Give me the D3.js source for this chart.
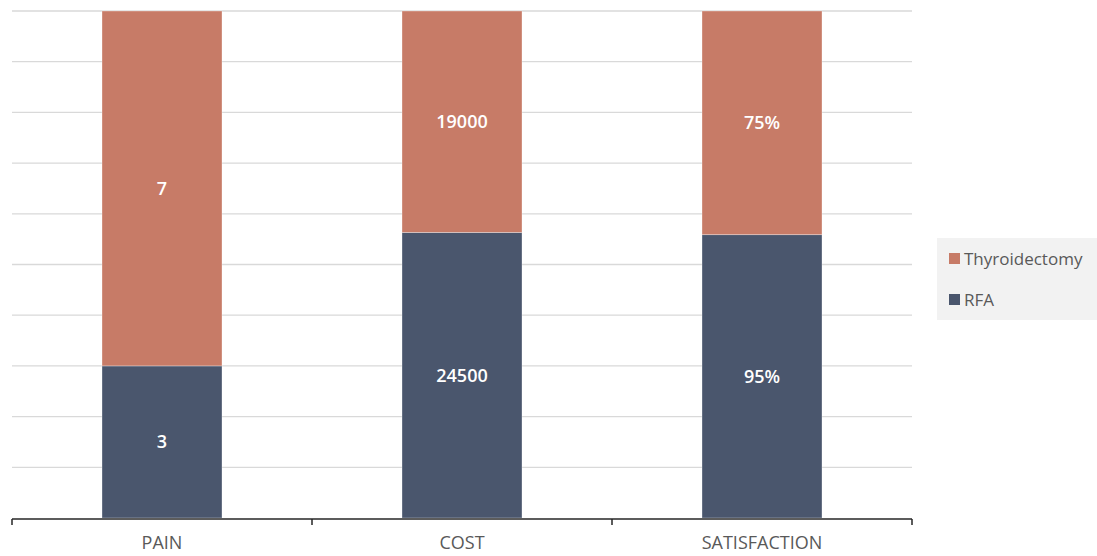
<!DOCTYPE html>
<html lang="en">
<meta charset="utf-8">
<style>
body {
  margin: 0;
  background: #fff;
  font-family: 'Open Sans', sans-serif;
}
.grid line {
  stroke: #d9d9d9;
  stroke-width: 1.3;
}
.label {
  fill: #fff;
  font-size: 18px;
  font-weight: 600;
}
.xaxis text {
  fill: #595959;
  font-size: 18px;
}
</style>
<body>
<div id="chart"></div>
<script src="https://d3js.org/d3.v7.min.js"></script>
<script>

// data
var categories = ["PAIN", "COST", "SATISFACTION"];
var seriesNames = ["RFA", "Thyroidectomy"];
var rfa = [3, 24500, 95];
var thyroidectomy = [7, 19000, 75];
var rfaLabels = ["3", "24500", "95%"];
var thyroLabels = ["7", "19000", "75%"];
var colors = ["#4a566d", "#c77b67"];

var width = 1097,
    height = 556;

var svg = d3.select("#chart").append("svg")
    .attr("width", width)
    .attr("height", height);

var x = d3.scaleBand()
    .domain(categories)
    .range([12, 912])
    .paddingInner(0.6)
    .paddingOuter(0.3);

var y = d3.scaleLinear()
    .domain([0, 1])
    .range([518, 11]);

// gridlines every 10%
svg.append("g")
    .attr("class", "grid")
  .selectAll("line")
    .data(d3.range(1, 11).map(function(i) { return i / 10; }))
  .enter().append("line")
    .attr("x1", 12)
    .attr("x2", 912)
    .attr("y1", function(d) { return y(d); })
    .attr("y2", function(d) { return y(d); });

// build stacked (100%) rows
var rows = categories.map(function(c, i) {
  var total = rfa[i] + thyroidectomy[i];
  return { cat: c, RFA: rfa[i] / total, Thyroidectomy: thyroidectomy[i] / total,
           labels: [rfaLabels[i], thyroLabels[i]] };
});

var stack = d3.stack().keys(seriesNames)(rows);

var layer = svg.selectAll(".layer")
    .data(stack)
  .enter().append("g")
    .attr("class", "layer")
    .attr("fill", function(d, i) { return colors[i]; });

layer.selectAll("rect")
    .data(function(d) { return d; })
  .enter().append("rect")
    .attr("x", function(d) { return x(d.data.cat); })
    .attr("width", x.bandwidth())
    .attr("y", function(d) { return y(d[1]); })
    .attr("height", function(d) { return y(d[0]) - y(d[1]); })
    .attr("stroke", "#fff")
    .attr("stroke-opacity", 0.4)
    .attr("stroke-width", 0.8);

// data labels
stack.forEach(function(s, si) {
  svg.selectAll(".label-" + si)
      .data(s)
    .enter().append("text")
      .attr("class", "label")
      .attr("x", function(d) { return x(d.data.cat) + x.bandwidth() / 2; })
      .attr("y", function(d) { return (y(d[0]) + y(d[1])) / 2; })
      .attr("text-anchor", "middle")
      .attr("dy", "0.35em")
      .text(function(d) { return d.data.labels[si]; });
});

// x axis
var xAxis = svg.append("g").attr("class", "xaxis");
xAxis.append("line")
    .attr("x1", 12).attr("x2", 912)
    .attr("y1", 519).attr("y2", 519)
    .attr("stroke", "#262626")
    .attr("stroke-width", 1.5);
xAxis.selectAll(".tick")
    .data([0, 1, 2, 3])
  .enter().append("line")
    .attr("x1", function(i) { return 12 + i * x.step(); })
    .attr("x2", function(i) { return 12 + i * x.step(); })
    .attr("y1", 519).attr("y2", 525)
    .attr("stroke", "#262626")
    .attr("stroke-width", 1.5);
xAxis.selectAll("text")
    .data(categories)
  .enter().append("text")
    .attr("x", function(d) { return x(d) + x.bandwidth() / 2; })
    .attr("y", 549)
    .attr("text-anchor", "middle")
    .text(function(d) { return d; });

// legend
var legend = svg.append("g").attr("transform", "translate(937,238)");
legend.append("rect")
    .attr("width", 160)
    .attr("height", 82)
    .attr("fill", "#f2f2f2");
var legendItems = [
  { name: "Thyroidectomy", color: colors[1], y: 21 },
  { name: "RFA", color: colors[0], y: 62 }
];
legend.selectAll(".item")
    .data(legendItems)
  .enter().append("rect")
    .attr("x", 12)
    .attr("y", function(d) { return d.y - 6; })
    .attr("width", 11)
    .attr("height", 11)
    .attr("fill", function(d) { return d.color; });
legend.selectAll("text")
    .data(legendItems)
  .enter().append("text")
    .attr("x", 27)
    .attr("y", function(d) { return d.y; })
    .attr("dy", "0.35em")
    .attr("fill", "#595959")
    .style("font-size", "17px")
    .text(function(d) { return d.name; });

</script>
</body>
</html>
